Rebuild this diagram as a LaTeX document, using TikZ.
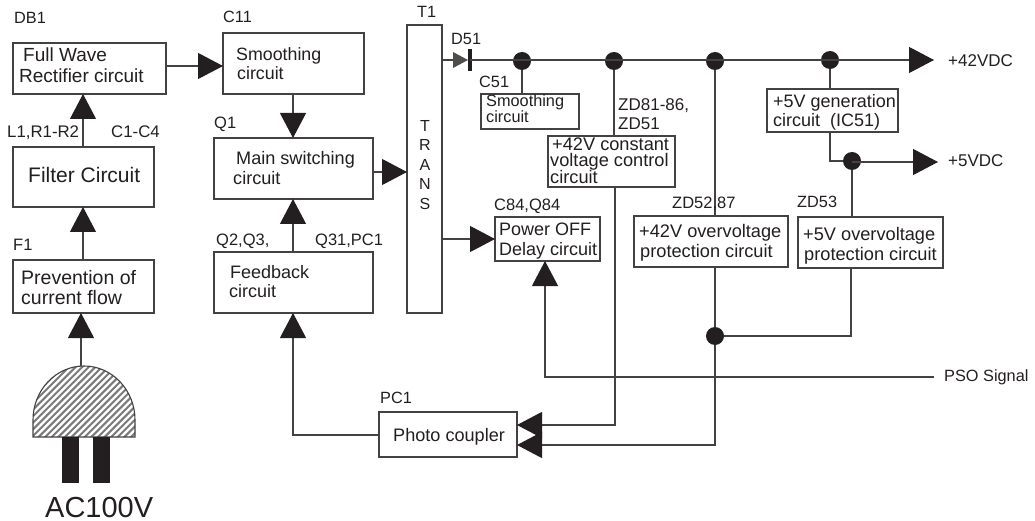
\documentclass[tikz,border=0pt]{standalone}
\usepackage{fontspec}
\setmainfont{Liberation Sans}
\usetikzlibrary{arrows.meta,calc}
\definecolor{ink}{HTML}{231F20}
\tikzset{
  x=1pt,y=-1pt,
  boxn/.style={draw=ink!85,line width=1.1pt,fill=white,inner sep=0pt,outer sep=0pt,anchor=north west},
  lab/.style={text=ink,inner sep=0pt,anchor=base west,align=left},
  wire/.style={draw=ink!85,line width=1.1pt},
  arr/.style={wire,-{Triangle[length=25pt,width=26pt,color=ink,fill=ink]}},
  dotn/.style={circle,fill=ink,minimum size=18pt,inner sep=0pt},
}
\newcommand{\bx}[5]{\node[boxn,minimum width=#4-#2,minimum height=#5-#3] (#1) at (#2,#3) {};}
% name, left x, last baseline y, size, leading, text
\newcommand{\tx}[6]{\node[lab,font=\fontsize{#4}{#5}\selectfont] (#1) at (#2,#3) {#6};}
\begin{document}
\begin{tikzpicture}
\useasboundingbox (0,0) rectangle (1035,521);
% boxes
\bx{fw}{13}{43}{166}{94}
\bx{filt}{13}{147}{154}{207}
\bx{prev}{13}{260}{154}{313}
\bx{smo}{223}{33}{364}{94}
\bx{main}{214}{138}{373}{199}
\bx{fb}{214}{252}{373}{313}
\bx{tr}{407}{25}{442}{313}
\bx{smc}{481}{94}{579}{129}
\bx{cv}{548}{136}{675}{187}
\bx{off}{495}{217}{600}{261}
\bx{ov}{634}{216}{788}{267}
\bx{gen}{767}{89}{898}{132}
\bx{ovf}{798}{217}{943}{268}
\bx{pc}{379}{412}{517}{457}
% coordinates and junctions
\coordinate (tout) at (442,60);
\node[dotn] (j1) at (522,61) {};
\node[dotn] (j2) at (614,61) {};
\node[dotn] (j3) at (715,61) {};
\node[dotn] (j4) at (830,60) {};
\node[dotn] (j5) at (852,161) {};
\node[dotn] (j6) at (715,336) {};
\coordinate (o42) at (934,60);
\coordinate (o5) at (938,162);
\coordinate (pso) at (934,377);
\coordinate (psoc) at (545,377);
% diode
\coordinate (da) at (453,60);
\coordinate (dc) at (470,60);
\draw[wire] (tout) -- (da);
\fill[ink!80] (453,52) -- (468,60) -- (453,68) -- cycle;
\draw[ink,line width=3.6pt] (470,49) -- (470,71);
% wires
\draw[wire] (dc) -- (j4 |- 0,60);
\draw[arr] (j4 |- 0,60) -- (o42);
\draw[wire] (j1) -- (j1 |- smc.north);
\draw[wire] (j2) -- (j2 |- cv.north);
\draw[wire] (j3) -- (j3 |- ov.north);
\draw[wire] (j4) -- (j4 |- gen.north);
\draw[wire] (j4 |- gen.south) |- (j5);
\draw[arr] (j5 |- 0,162) -- (o5);
\draw[wire] (j5) -- (j5 |- ovf.north);
\draw[wire] (851,268) |- (j6);
\draw[wire] (j6 |- ov.south) -- (j6);
\draw[arr] (fw.east |- 0,66) -- (smo.west |- 0,66);
\draw[arr] (293,94) -- (293,138);
\draw[arr] (main.east |- 0,172) -- (tr.west |- 0,172);
\draw[arr] (83,147) -- (83,94);
\draw[arr] (83,260) -- (83,207);
\draw[arr] (293,252) -- (293,199);
\draw[arr] (tr.east |- 0,239) -- (off.west |- 0,239);
\draw[arr] (pso) -- (psoc) -- (psoc |- off.south);
\draw[arr] (pc.west |- 0,435) -- (293,435) -- (293,313);
\draw[arr] (615,187) -- (615,425) -- (pc.east |- 0,425);
\draw[arr] (j6) -- (715,445) -- (pc.east |- 0,445);
% plug
\coordinate (ptop) at (81,366);
\draw[arr] (ptop) -- (prev.south -| ptop);
\begin{scope}
  \clip (33,437) -- (33,420) .. controls (33,390) and (56,366) .. (84,366) .. controls (112,366) and (135,390) .. (135,420) -- (135,437) -- cycle;
  \foreach \k in {0,6.6,...,200} {
    \draw[ink!60,line width=2pt] (\k-70,440) -- (\k+10,360);
  }
\end{scope}
\draw[wire] (33,437) -- (33,420) .. controls (33,390) and (56,366) .. (84,366) .. controls (112,366) and (135,390) .. (135,420) -- (135,437) -- cycle;
\fill[ink] (62,437) rectangle (79,483);
\fill[ink] (93,437) rectangle (110,483);
% box texts
\tx{t1}{19}{83}{19}{21}{\hspace*{4pt}Full Wave\\Rectifier circuit}
\tx{t2}{28}{183}{21}{21}{Filter Circuit}
\tx{t3}{21}{304}{19.5}{20}{Prevention of\\current flow}
\tx{t4}{236}{80}{17.8}{19}{Smoothing\\\hspace*{1pt}circuit}
\tx{t5}{233}{185}{18.1}{20}{\hspace*{3pt}Main switching\\circuit}
\tx{t6}{229}{297}{18}{19}{\hspace*{1pt}Feedback\\circuit}
\tx{t7}{486}{123}{16.3}{15}{Smoothing\\circuit}
\tx{t8}{550}{184}{18.2}{15.5}{\hspace*{2pt}+42V constant\\voltage control\\circuit}
\tx{t9}{499}{255}{18}{20}{Power OFF\\Delay circuit}
\tx{t10}{639}{258}{18.2}{20}{+42V overvoltage\\\hspace*{1pt}protection circuit}
\tx{t11}{773}{127}{18}{19}{+5V generation\\circuit~~(IC51)}
\tx{t12}{803}{260}{18.2}{20}{+5V overvoltage\\\hspace*{1pt}protection circuit}
\tx{t13}{393}{441}{18.1}{20}{Photo coupler}
\node[lab,font=\fontsize{16}{19.5}\selectfont,align=center,anchor=north] (t14) at (425,120) {T\\R\\A\\N\\S};
% labels
\tx{l1}{14}{24}{16.3}{19}{DB1}
\tx{l2}{223}{23}{16.3}{19}{C11}
\tx{l3}{7}{138}{16.8}{19}{L1,R1-R2}
\tx{l4}{111}{138}{16.8}{19}{C1-C4}
\tx{l5}{13}{251}{16.5}{19}{F1}
\tx{l6}{214}{129}{16.5}{19}{Q1}
\tx{l7}{216}{246}{16.5}{19}{Q2,Q3,}
\tx{l8}{315}{246}{16.5}{19}{Q31,PC1}
\tx{l9}{417}{18}{16.3}{19}{T1}
\tx{l10}{451}{45}{16.3}{19}{D51}
\tx{l11}{479}{88}{16.3}{19}{C51}
\tx{l12}{618}{130}{17}{19}{ZD81-86,\\ZD51}
\tx{l13}{494}{211}{16.5}{19}{C84,Q84}
\tx{l14}{672}{209}{16.5}{19}{ZD52,87}
\tx{l15}{797}{208}{16.3}{19}{ZD53}
\tx{l16}{380}{403}{16.3}{19}{PC1}
\tx{l17}{948}{67}{17}{19}{+42VDC}
\tx{l18}{948}{167}{17}{19}{+5VDC}
\tx{l19}{944}{381}{16.3}{19}{PSO Signal}
\tx{l20}{45}{517}{29}{29}{AC100V}
\end{tikzpicture}
\end{document}
